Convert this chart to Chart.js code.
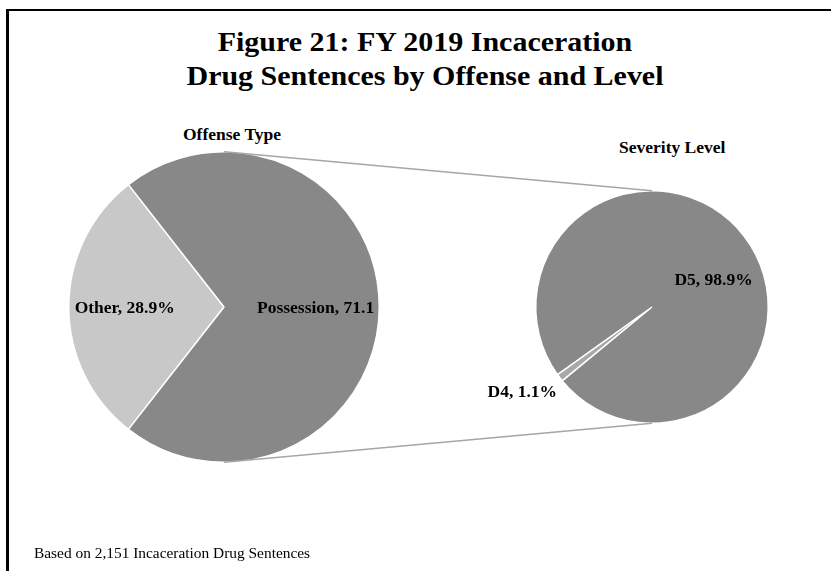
<!DOCTYPE html>
<html>
<head>
<meta charset="utf-8">
<script src="https://cdn.jsdelivr.net/npm/chart.js@4.4.0/dist/chart.umd.min.js"></script>
<style>
  body { margin: 0; width: 831px; height: 571px; background: #fff; overflow: hidden; position: relative;
         font-family: "Liberation Serif", "Times New Roman", serif; }
  .frame { position: absolute; left: 6px; top: 9px; width: 900px; height: 640px;
           border-top: 2px solid #000; border-left: 3px solid #000; }
  canvas { position: absolute; left: 0; top: 0; }
  .txt { position: absolute; white-space: nowrap; line-height: 1; color: #000; }
  #title { left: 0; width: 850px; top: 25px; text-align: center; font-weight: bold; font-size: 27px; line-height: 34px;
           transform: scaleX(1.11); }
  #sub1 { left: 183px; top: 126px; font-weight: bold; font-size: 17.5px; }
  #sub2 { left: 619px; top: 139px; font-weight: bold; font-size: 17.5px; }
  #foot { left: 34px; top: 545px; font-size: 15.4px; }
</style>
</head>
<body>
<div class="frame"></div>
<div class="txt" id="title">Figure 21: FY 2019 Incaceration<br>Drug Sentences by Offense and Level</div>
<div class="txt" id="sub1">Offense Type</div>
<div class="txt" id="sub2">Severity Level</div>
<canvas id="left" width="831" height="571"></canvas>
<canvas id="right" width="831" height="571"></canvas>
<div class="txt" id="foot">Based on 2,151 Incaceration Drug Sentences</div>

<script>
// --- datos ---
const offenseLabels = ['Other', 'Possession'];
const offenseValues = [28.9, 71.1];
const offenseText = ['Other, 28.9%', 'Possession, 71.1'];

const levelLabels = ['D4', 'D5'];
const levelValues = [1.1, 98.9];
const levelText = ['D4, 1.1%', 'D5, 98.9%'];

// etiquetas dentro / fuera de cada porcion
const sliceLabels = {
  id: 'sliceLabels',
  afterDatasetsDraw(chart, args, opts) {
    const ctx = chart.ctx;
    const arcs = chart.getDatasetMeta(0).data;
    ctx.save();
    ctx.font = 'bold 17.5px "Liberation Serif"';
    ctx.fillStyle = '#000';
    ctx.textAlign = 'center';
    ctx.textBaseline = 'middle';
    arcs.forEach((arc, i) => {
      const p = opts.place[i];
      const mid = (arc.startAngle + arc.endAngle) / 2;
      const d = arc.outerRadius * p.r;
      ctx.fillText(opts.text[i], arc.x + Math.cos(mid) * d + p.dx, arc.y + Math.sin(mid) * d + p.dy);
    });
    ctx.restore();
  }
};

// lineas que unen los dos pasteles
let leftChart = null;
const connectors = {
  id: 'connectors',
  afterDraw(chart) {
    if (!leftChart) return;
    const a = leftChart.getDatasetMeta(0).data[0];
    const b = chart.getDatasetMeta(0).data[0];
    const ctx = chart.ctx;
    ctx.save();
    ctx.strokeStyle = '#a6a6a6';
    ctx.lineWidth = 1.5;
    ctx.beginPath();
    ctx.moveTo(a.x, a.y - a.outerRadius);
    ctx.lineTo(b.x, b.y - b.outerRadius);
    ctx.moveTo(a.x, a.y + a.outerRadius);
    ctx.lineTo(b.x, b.y + b.outerRadius);
    ctx.stroke();
    ctx.restore();
  }
};

function pieOptions(padding, rotation, text, place) {
  return {
    responsive: false,
    animation: false,
    rotation: rotation,
    layout: { padding: padding },
    plugins: {
      legend: { display: false },
      tooltip: { enabled: false },
      sliceLabels: { text: text, place: place }
    }
  };
}

// Other centrado a la izquierda
const leftRotation = 270 - offenseValues[0] * 3.6 / 2;
leftChart = new Chart(document.getElementById('left'), {
  type: 'pie',
  data: {
    labels: offenseLabels,
    datasets: [{
      data: offenseValues,
      backgroundColor: ['#c8c8c8', '#888888'],
      borderColor: '#ffffff',
      borderWidth: 1.5
    }]
  },
  options: pieOptions({ left: 68, top: 151, right: 451, bottom: 108 }, leftRotation, offenseText,
    [{ r: 0.64, dx: 0, dy: 1 }, { r: 0.59, dx: 0, dy: 1 }]),
  plugins: [sliceLabels]
});

// D4 apuntando abajo a la izquierda
const rightRotation = 90 + 142.5 - levelValues[0] * 3.6 / 2;
new Chart(document.getElementById('right'), {
  type: 'pie',
  data: {
    labels: levelLabels,
    datasets: [{
      data: levelValues,
      backgroundColor: ['#a8a8a8', '#888888'],
      borderColor: '#ffffff',
      borderWidth: 1.5
    }]
  },
  options: pieOptions({ left: 535, top: 190, right: 62, bottom: 147 }, rightRotation, levelText,
    [{ r: 1.33, dx: -7, dy: -9 }, { r: 0.57, dx: 9, dy: 14 }]),
  plugins: [sliceLabels, connectors]
});
</script>
</body>
</html>
